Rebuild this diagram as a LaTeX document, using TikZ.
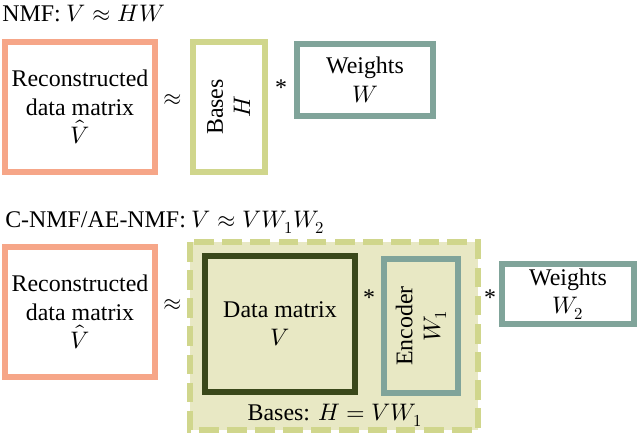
\documentclass[tikz,border=0pt]{standalone}
\usepackage{fontspec}
\setmainfont{Liberation Serif}
\usepackage{unicode-math}
\setmathfont{Latin Modern Math}
\usetikzlibrary{positioning}
\definecolor{salmon}{RGB}{246,166,136}
\definecolor{olive}{RGB}{208,214,140}
\definecolor{teal}{RGB}{128,164,154}
\definecolor{darkgreen}{RGB}{58,72,26}
\definecolor{pale}{RGB}{232,232,196}
\tikzset{
  box/.style n args={2}{draw,line width=4.5pt,inner sep=0pt,align=center,
    minimum width=#1*0.025cm,minimum height=#2*0.025cm,font=\fontsize{17}{20}\selectfont},
  op/.style={font=\fontsize{17}{20}\selectfont,inner sep=1pt},
  title/.style={font=\fontsize{17}{20}\selectfont,anchor=west,inner sep=0pt}
}
\begin{document}
\begin{tikzpicture}[x=0.025cm,y=-0.025cm]
\useasboundingbox (0,0) rectangle (640,436);

%NMF
\node[title] (T1) at (2,14) {NMF: $V\approx HW$};
\node[box={150}{130},draw=salmon] (REC1) at (80,107) {Reconstructed\\data matrix\\$\hat{V}$};
\node[op] (APPROX1) at (173,100) {$\approx$};
\node[box={72}{130},draw=olive] (BASES) at (229,107) {};
\node[rotate=90,align=center,font=\fontsize{17}{20}\selectfont] at (BASES) {Bases\\$H$};
\node[op] (STAR1) at (281,88) {*};
\node[box={136}{72},draw=teal] (W) at (365,80) {Weights\\$W$};

%C-NMF/AE-NMF
\node[title] (T2) at (5,222) {C-NMF/AE-NMF: $V\approx VW_1W_2$};
\node[box={150}{130},draw=salmon] (REC2) at (80,312) {Reconstructed\\data matrix\\$\hat{V}$};
\node[op] (APPROX2) at (173,305) {$\approx$};
\draw[olive,line width=4pt,dash pattern=on 14pt off 6pt,fill=pale] (190,242) rectangle (478,430);
\node[box={150}{136},draw=darkgreen] (DATA) at (280,324) {Data matrix\\$V$};
\node[op] (STAR2) at (369,298) {*};
\node[box={74}{134},draw=teal] (ENC) at (421,326) {};
\node[rotate=90,align=center,font=\fontsize{17}{20}\selectfont] at (ENC) {Encoder\\$W_1$};
\node[op] (STAR3) at (490,298) {*};
\node[box={132}{60},draw=teal] (W2) at (568,294) {Weights\\$W_2$};
\node[font=\fontsize{17}{20}\selectfont] (HLBL) at (335,415) {Bases: $H=VW_1$};
\end{tikzpicture}
\end{document}
